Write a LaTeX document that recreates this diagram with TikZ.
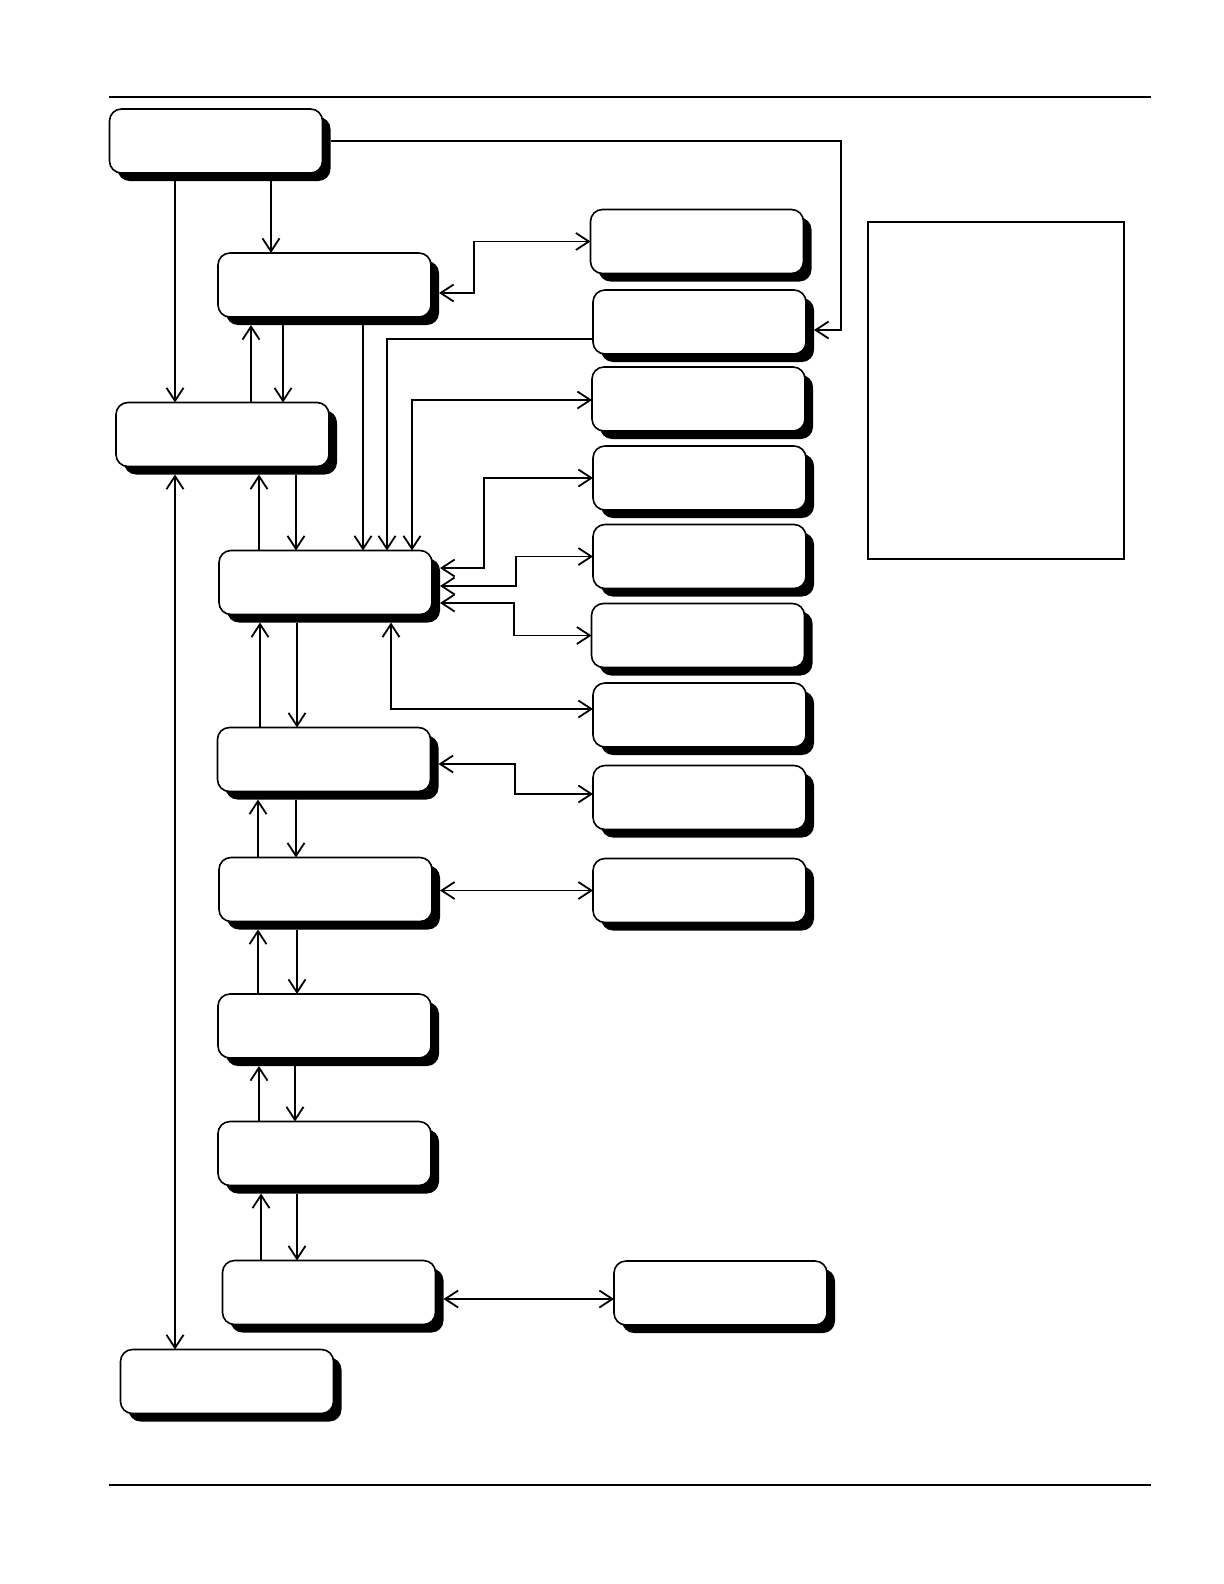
\documentclass[tikz,border=0pt]{standalone}
\usetikzlibrary{arrows.meta}
\newcommand\mkbox[3]{%
  \node[sh] (#1s) at ({#2+8},{#3+8}) {};
  \node[bx] (#1) at (#2,#3) {};}
\begin{document}
\begin{tikzpicture}[x=0.5pt,y=-0.5pt,
  bx/.style={draw=black,line width=0.8pt,fill=white,rounded corners=6pt,
    minimum width=106.5pt,minimum height=32pt,inner sep=0pt,outer sep=0pt},
  sh/.style={fill=black,rounded corners=6pt,
    minimum width=106.5pt,minimum height=32pt,inner sep=0pt,outer sep=0pt},
  con/.style={line width=0.9pt},
  arr/.style={con,-{Straight Barb[length=6.5pt,width=8.5pt]}},
  darr/.style={con,{Straight Barb[length=6.5pt,width=8.5pt]}-{Straight Barb[length=6.5pt,width=8.5pt]}},
  rule/.style={line width=1pt}]
\useasboundingbox[fill=white] (0,0) rectangle (1224,1584);

% page rules
\draw[rule] (109,97) -- (1151,97);
\draw[rule] (109,1485) -- (1151,1485);

% left column
\mkbox{A}{216}{141}
\mkbox{B}{324.5}{285}
\mkbox{C}{222.5}{434.5}
\mkbox{D}{325.5}{582.5}
\mkbox{E}{324}{759.5}
\mkbox{F}{325.5}{889.5}
\mkbox{G}{324.5}{1026}
\mkbox{H}{324.5}{1153.5}
\mkbox{I}{329}{1292.5}
\mkbox{J}{227}{1381.5}
% right column
\mkbox{Ra}{697}{241.5}
\mkbox{Rb}{699.5}{322}
\mkbox{Rc}{698.5}{399}
\mkbox{Rd}{699.5}{478}
\mkbox{Re}{699.5}{556.5}
\mkbox{Rf}{698}{635.5}
\mkbox{Rg}{699.5}{715}
\mkbox{Rh}{699.5}{797.5}
\mkbox{Ri}{699.5}{890.5}
\mkbox{Rj}{720.5}{1293}

% legend frame
\node[draw=black,line width=0.6pt,minimum width=128pt,minimum height=168.5pt,inner sep=0pt] (L) at (996,390.5) {};

% helper coordinates
\coordinate (k841) at (841,0);
\coordinate (c175) at (175,0);
\coordinate (c271) at (271,0);
\coordinate (c474) at (474,0);
\coordinate (c251) at (251,0);
\coordinate (c283) at (283,0);
\coordinate (c363) at (363,0);
\coordinate (t1) at (387,339);
\coordinate (t2) at (412,400);
\coordinate (c259) at (259,0);
\coordinate (c296) at (296,0);
\coordinate (t3) at (484,568);
\coordinate (t4) at (516,586);
\coordinate (t5) at (514,603);
\coordinate (t6) at (391,709);
\coordinate (c260) at (260,0);
\coordinate (c297) at (297,0);
\coordinate (t7) at (515,764);
\coordinate (t8) at (515,794);
\coordinate (c258) at (258,0);
\coordinate (c295) at (295,0);
\coordinate (c261) at (261,0);
\coordinate (t9) at (0,1299);

% connectors
\draw[arr] (As.east |- A.east) -| (k841 |- Rbs.east) -- (Rbs.east);
\draw[arr] (As.south -| c271) -- (B.north -| c271);
\draw[arr] (As.south -| c175) -- (C.north -| c175);
\draw[darr] (Bs.east) -| (c474 |- Ra.west) -- (Ra.west);
\draw[arr] (C.north -| c251) -- (Bs.south -| c251);
\draw[arr] (Bs.south -| c283) -- (C.north -| c283);
\draw[arr] (Bs.south -| c363) -- (D.north -| c363);
\draw[arr] (Rb.west |- t1) -| (D.north -| t1);
\draw[darr] (Rc.west |- t2) -| (D.north -| t2);
\draw[arr] (D.north -| c259) -- (Cs.south -| c259);
\draw[arr] (Cs.south -| c296) -- (D.north -| c296);
\draw[darr] (Cs.south -| c175) -- (J.north -| c175);
\draw[darr] (Ds.east |- t3) -| (t3 |- Rd.west) -- (Rd.west);
\draw[darr] (Ds.east |- t4) -| (t4 |- Re.west) -- (Re.west);
\draw[darr] (Ds.east |- t5) -| (t5 |- Rf.west) -- (Rf.west);
\draw[darr] (Ds.south -| t6) |- (Rg.west |- t6);
\draw[arr] (E.north -| c260) -- (Ds.south -| c260);
\draw[arr] (Ds.south -| c297) -- (E.north -| c297);
\draw[darr] (Es.east |- t7) -| (t8) -- (Rh.west |- t8);
\draw[arr] (F.north -| c258) -- (Es.south -| c258);
\draw[arr] (Es.south -| c296) -- (F.north -| c296);
\draw[darr] (Fs.east |- Ri.west) -- (Ri.west);
\draw[arr] (G.north -| c258) -- (Fs.south -| c258);
\draw[arr] (Fs.south -| c297) -- (G.north -| c297);
\draw[arr] (H.north -| c259) -- (Gs.south -| c259);
\draw[arr] (Gs.south -| c295) -- (H.north -| c295);
\draw[arr] (I.north -| c261) -- (Hs.south -| c261);
\draw[arr] (Hs.south -| c297) -- (I.north -| c297);
\draw[darr] (Is.east |- t9) -- (Rj.west |- t9);
\end{tikzpicture}
\end{document}
